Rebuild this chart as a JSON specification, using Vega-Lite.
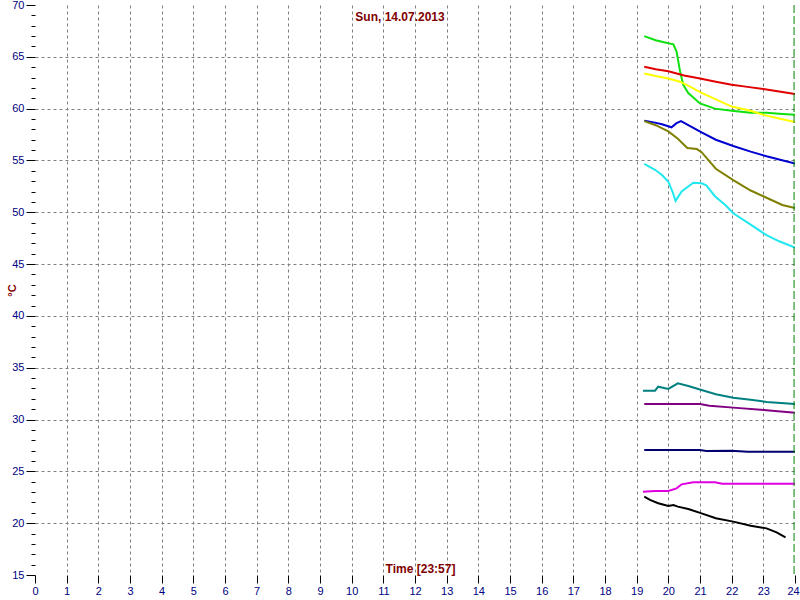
{
  "$schema": "https://vega.github.io/schema/vega-lite/v6.json",
  "width": 760,
  "height": 570,
  "autosize": {"type": "none"},
  "padding": {"left": 35, "top": 5, "right": 5, "bottom": 25},
  "background": "white",
  "config": {"view": {"stroke": null}},
  "title": {"text": "Sun, 14.07.2013", "color": "#800000", "font": "Liberation Sans", "fontSize": 12, "fontWeight": "bold", "anchor": "middle", "offset": -25, "dx": -15},
  "datasets": {
    "temps": [
      {"s": "green", "t": 19.24, "v": 67.0}, {"s": "green", "t": 19.6, "v": 66.6}, {"s": "green", "t": 20.0, "v": 66.3}, {"s": "green", "t": 20.16, "v": 66.2}, {"s": "green", "t": 20.26, "v": 65.5}, {"s": "green", "t": 20.37, "v": 63.6}, {"s": "green", "t": 20.47, "v": 62.3}, {"s": "green", "t": 20.63, "v": 61.5}, {"s": "green", "t": 21.0, "v": 60.5}, {"s": "green", "t": 21.47, "v": 60.0}, {"s": "green", "t": 22.0, "v": 59.8}, {"s": "green", "t": 22.6, "v": 59.6}, {"s": "green", "t": 23.1, "v": 59.6}, {"s": "green", "t": 23.5, "v": 59.5}, {"s": "green", "t": 24.0, "v": 59.4},
      {"s": "red", "t": 19.24, "v": 64.05}, {"s": "red", "t": 19.6, "v": 63.8}, {"s": "red", "t": 20.0, "v": 63.6}, {"s": "red", "t": 20.5, "v": 63.2}, {"s": "red", "t": 21.0, "v": 62.9}, {"s": "red", "t": 21.5, "v": 62.6}, {"s": "red", "t": 22.0, "v": 62.3}, {"s": "red", "t": 22.5, "v": 62.1}, {"s": "red", "t": 23.0, "v": 61.9}, {"s": "red", "t": 23.5, "v": 61.65}, {"s": "red", "t": 24.0, "v": 61.4},
      {"s": "yellow", "t": 19.24, "v": 63.4}, {"s": "yellow", "t": 19.6, "v": 63.15}, {"s": "yellow", "t": 20.0, "v": 62.9}, {"s": "yellow", "t": 20.37, "v": 62.6}, {"s": "yellow", "t": 20.7, "v": 62.1}, {"s": "yellow", "t": 21.0, "v": 61.6}, {"s": "yellow", "t": 21.5, "v": 60.9}, {"s": "yellow", "t": 22.0, "v": 60.2}, {"s": "yellow", "t": 22.6, "v": 59.8}, {"s": "yellow", "t": 23.0, "v": 59.4}, {"s": "yellow", "t": 23.5, "v": 59.05}, {"s": "yellow", "t": 24.0, "v": 58.7},
      {"s": "blue", "t": 19.24, "v": 58.84}, {"s": "blue", "t": 19.5, "v": 58.7}, {"s": "blue", "t": 19.8, "v": 58.5}, {"s": "blue", "t": 20.1, "v": 58.2}, {"s": "blue", "t": 20.26, "v": 58.6}, {"s": "blue", "t": 20.4, "v": 58.8}, {"s": "blue", "t": 20.63, "v": 58.4}, {"s": "blue", "t": 21.05, "v": 57.7}, {"s": "blue", "t": 21.5, "v": 57.0}, {"s": "blue", "t": 22.05, "v": 56.4}, {"s": "blue", "t": 22.6, "v": 55.85}, {"s": "blue", "t": 23.1, "v": 55.4}, {"s": "blue", "t": 23.5, "v": 55.1}, {"s": "blue", "t": 24.0, "v": 54.7},
      {"s": "olive", "t": 19.24, "v": 58.8}, {"s": "olive", "t": 19.6, "v": 58.4}, {"s": "olive", "t": 20.0, "v": 57.8}, {"s": "olive", "t": 20.3, "v": 57.1}, {"s": "olive", "t": 20.6, "v": 56.2}, {"s": "olive", "t": 20.9, "v": 56.1}, {"s": "olive", "t": 21.05, "v": 55.8}, {"s": "olive", "t": 21.5, "v": 54.2}, {"s": "olive", "t": 22.05, "v": 53.1}, {"s": "olive", "t": 22.6, "v": 52.1}, {"s": "olive", "t": 23.1, "v": 51.4}, {"s": "olive", "t": 23.6, "v": 50.7}, {"s": "olive", "t": 24.0, "v": 50.4},
      {"s": "cyan", "t": 19.24, "v": 54.66}, {"s": "cyan", "t": 19.58, "v": 54.1}, {"s": "cyan", "t": 19.8, "v": 53.6}, {"s": "cyan", "t": 20.0, "v": 52.95}, {"s": "cyan", "t": 20.13, "v": 52.0}, {"s": "cyan", "t": 20.23, "v": 51.1}, {"s": "cyan", "t": 20.42, "v": 52.0}, {"s": "cyan", "t": 20.79, "v": 52.85}, {"s": "cyan", "t": 21.05, "v": 52.8}, {"s": "cyan", "t": 21.2, "v": 52.6}, {"s": "cyan", "t": 21.47, "v": 51.55}, {"s": "cyan", "t": 21.8, "v": 50.7}, {"s": "cyan", "t": 22.05, "v": 49.9}, {"s": "cyan", "t": 22.6, "v": 48.8}, {"s": "cyan", "t": 23.1, "v": 47.8}, {"s": "cyan", "t": 23.5, "v": 47.2}, {"s": "cyan", "t": 24.0, "v": 46.6},
      {"s": "teal", "t": 19.2, "v": 32.78}, {"s": "teal", "t": 19.58, "v": 32.78}, {"s": "teal", "t": 19.68, "v": 33.17}, {"s": "teal", "t": 20.0, "v": 32.95}, {"s": "teal", "t": 20.3, "v": 33.5}, {"s": "teal", "t": 20.63, "v": 33.24}, {"s": "teal", "t": 21.05, "v": 32.85}, {"s": "teal", "t": 21.5, "v": 32.44}, {"s": "teal", "t": 22.05, "v": 32.1}, {"s": "teal", "t": 22.6, "v": 31.9}, {"s": "teal", "t": 23.1, "v": 31.7}, {"s": "teal", "t": 24.0, "v": 31.5},
      {"s": "purple", "t": 19.24, "v": 31.5}, {"s": "purple", "t": 21.0, "v": 31.5}, {"s": "purple", "t": 21.3, "v": 31.34}, {"s": "purple", "t": 22.05, "v": 31.15}, {"s": "purple", "t": 23.1, "v": 30.9}, {"s": "purple", "t": 24.0, "v": 30.66},
      {"s": "navy", "t": 19.24, "v": 27.06}, {"s": "navy", "t": 21.0, "v": 27.06}, {"s": "navy", "t": 21.2, "v": 26.97}, {"s": "navy", "t": 22.0, "v": 27.0}, {"s": "navy", "t": 22.5, "v": 26.9}, {"s": "navy", "t": 24.0, "v": 26.9},
      {"s": "magenta", "t": 19.2, "v": 23.04}, {"s": "magenta", "t": 19.58, "v": 23.1}, {"s": "magenta", "t": 20.0, "v": 23.1}, {"s": "magenta", "t": 20.26, "v": 23.36}, {"s": "magenta", "t": 20.42, "v": 23.75}, {"s": "magenta", "t": 20.79, "v": 23.95}, {"s": "magenta", "t": 21.47, "v": 23.95}, {"s": "magenta", "t": 21.7, "v": 23.8}, {"s": "magenta", "t": 24.0, "v": 23.8},
      {"s": "black", "t": 19.24, "v": 22.56}, {"s": "black", "t": 19.42, "v": 22.24}, {"s": "black", "t": 19.68, "v": 21.92}, {"s": "black", "t": 20.0, "v": 21.66}, {"s": "black", "t": 20.16, "v": 21.75}, {"s": "black", "t": 20.3, "v": 21.6}, {"s": "black", "t": 20.63, "v": 21.37}, {"s": "black", "t": 21.05, "v": 20.95}, {"s": "black", "t": 21.5, "v": 20.47}, {"s": "black", "t": 22.05, "v": 20.15}, {"s": "black", "t": 22.6, "v": 19.76}, {"s": "black", "t": 23.1, "v": 19.5}, {"s": "black", "t": 23.42, "v": 19.12}, {"s": "black", "t": 23.7, "v": 18.64}
    ],
    "now": [{"t": 23.97}]
  },
  "layer": [
    {
      "data": {"name": "temps"},
      "mark": {"type": "line", "strokeWidth": 2, "clip": true},
      "encoding": {
        "x": {
          "field": "t", "type": "quantitative",
          "scale": {"domain": [0, 24], "nice": false, "zero": false},
          "axis": {
            "title": "Time [23:57]", "titleColor": "#800000", "titleFont": "Liberation Sans", "titleFontSize": 12, "titleFontWeight": "bold",
            "titleY": -7, "titleBaseline": "middle", "titleX": 385, "titleAlign": "center",
            "domain": false,
            "tickCount": 1000,
            "format": "d",
            "values": [0,0.125,0.25,0.375,0.5,0.625,0.75,0.875,1,1.125,1.25,1.375,1.5,1.625,1.75,1.875,2,2.125,2.25,2.375,2.5,2.625,2.75,2.875,3,3.125,3.25,3.375,3.5,3.625,3.75,3.875,4,4.125,4.25,4.375,4.5,4.625,4.75,4.875,5,5.125,5.25,5.375,5.5,5.625,5.75,5.875,6,6.125,6.25,6.375,6.5,6.625,6.75,6.875,7,7.125,7.25,7.375,7.5,7.625,7.75,7.875,8,8.125,8.25,8.375,8.5,8.625,8.75,8.875,9,9.125,9.25,9.375,9.5,9.625,9.75,9.875,10,10.125,10.25,10.375,10.5,10.625,10.75,10.875,11,11.125,11.25,11.375,11.5,11.625,11.75,11.875,12,12.125,12.25,12.375,12.5,12.625,12.75,12.875,13,13.125,13.25,13.375,13.5,13.625,13.75,13.875,14,14.125,14.25,14.375,14.5,14.625,14.75,14.875,15,15.125,15.25,15.375,15.5,15.625,15.75,15.875,16,16.125,16.25,16.375,16.5,16.625,16.75,16.875,17,17.125,17.25,17.375,17.5,17.625,17.75,17.875,18,18.125,18.25,18.375,18.5,18.625,18.75,18.875,19,19.125,19.25,19.375,19.5,19.625,19.75,19.875,20,20.125,20.25,20.375,20.5,20.625,20.75,20.875,21,21.125,21.25,21.375,21.5,21.625,21.75,21.875,22,22.125,22.25,22.375,22.5,22.625,22.75,22.875,23,23.125,23.25,23.375,23.5,23.625,23.75,23.875,24],
            "labelExpr": "datum.value % 1 === 0 ? datum.label : ''",
            "labelOverlap": false, "labelFlush": false, "labelBound": false,
            "labelColor": "#000080", "labelFont": "Liberation Sans", "labelFontSize": 11, "labelPadding": 2,
            "labelOffset": {"condition": {"test": "datum.value === 24", "value": -2}, "value": 0},
            "tickColor": "#000000", "tickWidth": 1,
            "tickSize": {"condition": {"test": "datum.value % 1 === 0", "value": 8}, "value": 4},
            "grid": true, "gridColor": "#808080", "gridDash": [3, 3], "gridWidth": 1,
            "gridOpacity": {"condition": {"test": "datum.value % 1 === 0 && datum.value > 0 && datum.value < 24", "value": 1}, "value": 0}
          }
        },
        "y": {
          "field": "v", "type": "quantitative",
          "scale": {"domain": [15, 70], "nice": false, "zero": false},
          "axis": {
            "title": "°C", "titleColor": "#800000", "titleFont": "Liberation Sans", "titleFontSize": 11, "titleFontWeight": "bold",
            "titleX": -23, "titleY": 285, "titleAlign": "center", "titleBaseline": "middle", "titleAngle": -90,
            "domain": false,
            "tickCount": 1000,
            "format": "d",
            "values": [15,16,17,18,19,20,21,22,23,24,25,26,27,28,29,30,31,32,33,34,35,36,37,38,39,40,41,42,43,44,45,46,47,48,49,50,51,52,53,54,55,56,57,58,59,60,61,62,63,64,65,66,67,68,69,70],
            "labelExpr": "datum.value % 5 === 0 ? datum.label : ''",
            "labelOverlap": false, "labelFlush": false, "labelBound": false,
            "labelColor": "#000080", "labelFont": "Liberation Sans", "labelFontSize": 11, "labelPadding": 2,
            "tickColor": "#000000", "tickWidth": 1,
            "tickSize": {"condition": {"test": "datum.value % 5 === 0", "value": 9}, "value": 4},
            "grid": true, "gridColor": "#808080", "gridDash": [3, 3], "gridWidth": 1,
            "gridOpacity": {"condition": {"test": "datum.value % 5 === 0 && datum.value > 15 && datum.value < 70", "value": 1}, "value": 0}
          }
        },
        "color": {
          "field": "s", "type": "nominal", "legend": null,
          "scale": {
            "domain": ["green", "red", "yellow", "blue", "olive", "cyan", "teal", "purple", "navy", "magenta", "black"],
            "range": ["#10e010", "#e00000", "#ffff00", "#0000d0", "#808000", "#20e8f0", "#008080", "#800080", "#000070", "#e000e0", "#000000"]
          }
        },
        "detail": {"field": "s"}
      }
    },
    {
      "data": {"name": "now"},
      "mark": {"type": "rule", "color": "#008000", "strokeWidth": 1, "strokeDash": [8, 3]},
      "encoding": {
        "x": {"field": "t", "type": "quantitative"}
      }
    }
  ]
}
